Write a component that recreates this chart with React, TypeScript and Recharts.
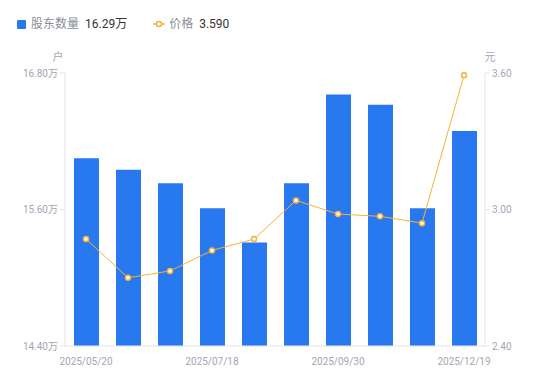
import { ComposedChart, Bar, Line, XAxis, YAxis } from "recharts";

const dates = [
  "2025/05/20",
  "2025/06/10",
  "2025/06/30",
  "2025/07/18",
  "2025/08/08",
  "2025/08/29",
  "2025/09/30",
  "2025/10/31",
  "2025/11/28",
  "2025/12/19",
];
const holders = [16.05, 15.95, 15.83, 15.61, 15.31, 15.83, 16.61, 16.52, 15.61, 16.29];
const prices = [2.87, 2.7, 2.73, 2.82, 2.87, 3.04, 2.98, 2.97, 2.94, 3.59];
const leftTicks = [14.4, 15.6, 16.8];
const rightTicks = [2.4, 3.0, 3.6];

const data = dates.map((d, i) => ({ date: d, holders: holders[i], price: prices[i] }));

const BLUE = "#2878f0";
const ORANGE = "#f7b236";
const TICK = "#a3a6b4";
const AXIS = "#e3e5ea";
const FONT = "Roboto, 'Noto Sans CJK SC', sans-serif";

// unit text above the axis; side decides which edge of the axis box it hugs
const unitLabel = (text: string, side: "left" | "right") => (props: any) => {
  const vb = props.viewBox;
  const x = side === "left" ? vb.x + vb.width - 7 : vb.x + 5;
  return (
    <text x={x} y={vb.y - 12} fill={TICK} fontSize={11} fontFamily={FONT} textAnchor="middle">
      {text}
    </text>
  );
};

const Legend = () => (
  <div
    style={{
      position: "absolute",
      left: 17,
      top: 15,
      display: "flex",
      alignItems: "center",
      fontFamily: FONT,
      fontSize: 12,
      lineHeight: "18px",
    }}
  >
    <span style={{ width: 9, height: 9, background: BLUE, borderRadius: 1, marginRight: 5 }} />
    <span style={{ color: "#8a8e9c", marginRight: 6 }}>股东数量</span>
    <span style={{ color: "#333", marginRight: 26 }}>{holders[holders.length - 1].toFixed(2)}万</span>
    <svg width={12} height={8} style={{ marginRight: 4 }}>
      <line x1={0} y1={4} x2={12} y2={4} stroke={ORANGE} strokeWidth={1.5} />
      <circle cx={6} cy={4} r={2.5} fill="#fff" stroke={ORANGE} strokeWidth={1.5} />
    </svg>
    <span style={{ color: "#8a8e9c", marginRight: 6 }}>价格</span>
    <span style={{ color: "#333" }}>{prices[prices.length - 1].toFixed(3)}</span>
  </div>
);

export default function App() {
  return (
    <div style={{ position: "absolute", left: 0, top: 0, width: 550, height: 381 }}>
      <Legend />
      <ComposedChart
        width={550}
        height={381}
        data={data}
        margin={{ top: 73, right: 0, bottom: 5, left: 0 }}
      >
        <XAxis
          dataKey="date"
          interval={2}
          tickLine={false}
          axisLine={{ stroke: AXIS }}
          tick={{ fill: TICK, fontSize: 10, fontFamily: FONT }}
          tickMargin={6}
          height={30}
        />
        <YAxis
          yAxisId="left"
          width={65}
          domain={[14.4, 16.8]}
          ticks={leftTicks}
          tickFormatter={(v: number) => v.toFixed(2) + "万"}
          axisLine={{ stroke: AXIS }}
          tickLine={{ stroke: AXIS }}
          tickSize={5}
          tick={{ fill: TICK, fontSize: 10, fontFamily: FONT }}
          label={{ content: unitLabel("户", "left") }}
        />
        <YAxis
          yAxisId="right"
          orientation="right"
          width={65}
          domain={[2.4, 3.6]}
          ticks={rightTicks}
          tickFormatter={(v: number) => v.toFixed(2)}
          axisLine={{ stroke: AXIS }}
          tickLine={{ stroke: AXIS }}
          tickSize={5}
          tick={{ fill: TICK, fontSize: 10, fontFamily: FONT }}
          label={{ content: unitLabel("元", "right") }}
        />
        <Bar yAxisId="left" dataKey="holders" fill={BLUE} barSize={25} isAnimationActive={false} />
        <Line
          yAxisId="right"
          dataKey="price"
          stroke={ORANGE}
          strokeWidth={1}
          dot={{ r: 2.5, fill: "#fff", stroke: ORANGE, strokeWidth: 1.5 }}
          isAnimationActive={false}
        />
      </ComposedChart>
    </div>
  );
}
